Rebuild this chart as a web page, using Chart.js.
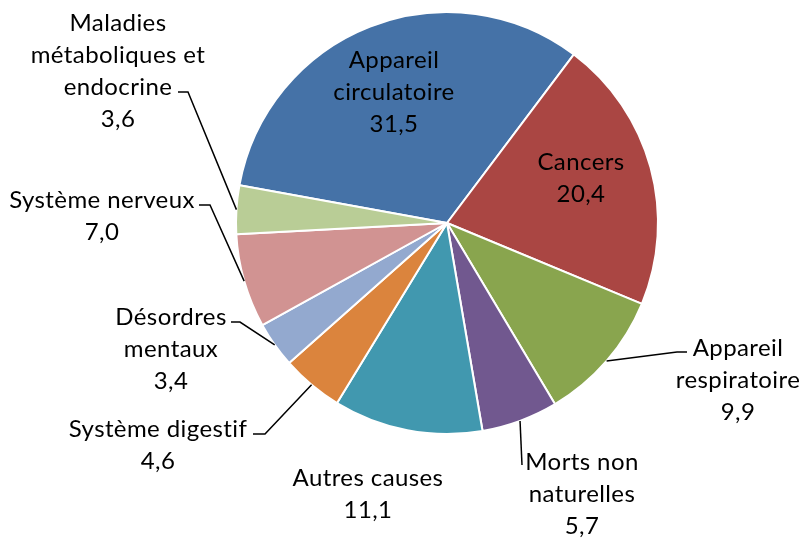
<!DOCTYPE html>
<html>
<head>
<meta charset="utf-8">
<script src="https://cdn.jsdelivr.net/npm/chart.js@4"></script>
<style>
  html, body { margin: 0; padding: 0; background: #fff; }
  #wrap { width: 810px; height: 538px; position: relative; }
</style>
</head>
<body>
<div id="wrap"><canvas id="pie"></canvas></div>
<script>
const categories = [
  ['Appareil', 'circulatoire'],
  ['Cancers'],
  ['Appareil', 'respiratoire'],
  ['Morts non', 'naturelles'],
  ['Autres causes'],
  ['Système digestif'],
  ['Désordres', 'mentaux'],
  ['Système nerveux'],
  ['Maladies', 'métaboliques et', 'endocrine'],
];
const values = [31.5, 20.4, 9.9, 5.7, 11.1, 4.6, 3.4, 7.0, 3.6];
const colors = ['#4572A7', '#AA4643', '#89A54E', '#71588F', '#4198AF', '#DB843D', '#93A9CF', '#D19392', '#B9CD96'];

// where each label sits (center of first line) and where its leader line starts
const labelLayout = [
  { x: 394, y: 60 },
  { x: 581, y: 162 },
  { x: 738, y: 348, leader: [[687, 352], [677, 352]] },
  { x: 582, y: 462, leader: [[522, 465]] },
  { x: 368, y: 478 },
  { x: 158, y: 429, leader: [[253, 434], [265, 434]] },
  { x: 171, y: 317, leader: [[231, 322], [240, 322]] },
  { x: 102, y: 200, leader: [[199, 205], [210, 205]] },
  { x: 118, y: 23, leader: [[178, 92], [188, 92]] },
];
const lineHeight = 32;
const fmt = (v) => v.toFixed(1).replace('.', ',');

const pieLabels = {
  id: 'pieLabels',
  afterDatasetsDraw(chart) {
    const ctx = chart.ctx;
    const arcs = chart.getDatasetMeta(0).data;
    ctx.save();
    ctx.font = '24px Lato';
    ctx.letterSpacing = '0.4px';
    ctx.fillStyle = '#000';
    ctx.textAlign = 'center';
    ctx.textBaseline = 'middle';
    ctx.strokeStyle = '#000';
    ctx.lineWidth = 1.5;
    arcs.forEach((arc, i) => {
      const pos = labelLayout[i];
      const lines = [...categories[i], fmt(values[i])];
      lines.forEach((t, k) => ctx.fillText(t, pos.x, pos.y + k * lineHeight));
      if (pos.leader) {
        const { x, y, startAngle, endAngle, outerRadius } = arc.getProps(['x', 'y', 'startAngle', 'endAngle', 'outerRadius'], true);
        const mid = (startAngle + endAngle) / 2;
        ctx.beginPath();
        ctx.moveTo(pos.leader[0][0], pos.leader[0][1]);
        pos.leader.slice(1).forEach((p) => ctx.lineTo(p[0], p[1]));
        ctx.lineTo(x + Math.cos(mid) * outerRadius, y + Math.sin(mid) * outerRadius);
        ctx.stroke();
      }
    });
    ctx.restore();
  },
};

new Chart(document.getElementById('pie'), {
  type: 'pie',
  data: {
    labels: categories.map((c) => c.join(' ')),
    datasets: [{
      data: values,
      backgroundColor: colors,
      borderColor: '#fff',
      borderWidth: 2,
    }],
  },
  options: {
    responsive: true,
    maintainAspectRatio: false,
    animation: false,
    rotation: -79.7,
    layout: { padding: { left: 235, right: 151, top: 11, bottom: 103 } },
    plugins: {
      legend: { display: false },
      tooltip: { enabled: false },
    },
  },
  plugins: [pieLabels],
});
</script>
</body>
</html>
